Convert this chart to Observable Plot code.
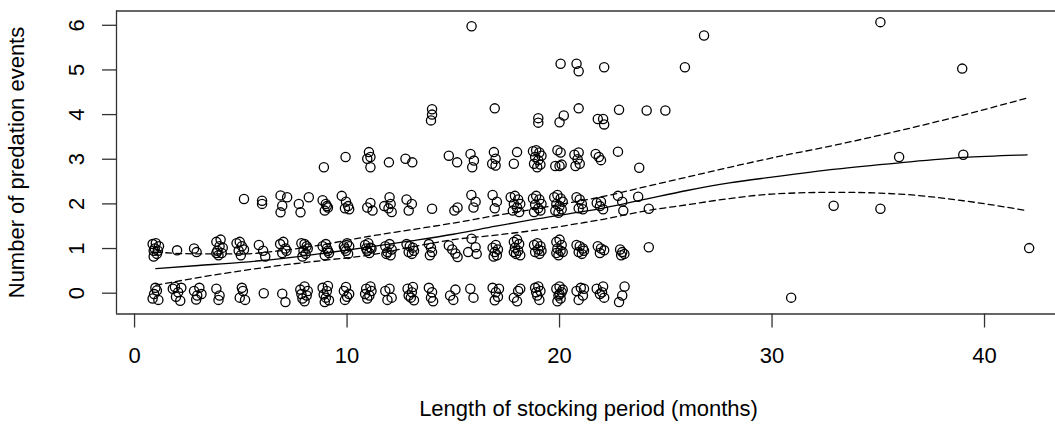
<!DOCTYPE html>
<html>
<head>
<meta charset="utf-8">
<script src="https://cdn.jsdelivr.net/npm/d3@7"></script>
<script src="https://cdn.jsdelivr.net/npm/@observablehq/plot@0.6"></script>
<style>
  html, body { margin: 0; padding: 0; background: #fff; }
  #chart { width: 1055px; height: 425px; overflow: hidden; }
</style>
</head>
<body>
<div id="chart"></div>
<script>
const xTicks = [0, 10, 20, 30, 40];
const yTicks = [0, 1, 2, 3, 4, 5, 6];
const xTitle = "Length of stocking period (months)";
const yTitle = "Number of predation events";

// jittered observations [months, events]
const zeroEvents = [
  [0.85,-0.12],[1.05,0.06],[0.92,-0.02],[1.12,-0.15],[0.98,0.12],
  [1.8,0.1],[2.05,0.02],[1.95,-0.08],[2.2,0.12],[1.9,0.14],[2.15,-0.17],
  [2.8,0.05],[3.05,0.12],[2.95,-0.05],[3.15,-0.02],[2.9,-0.14],
  [3.85,0.1],[4.0,-0.05],[3.95,-0.15],
  [4.95,-0.1],[5.1,0.05],[5.2,-0.15],[5.05,0.12],
  [6.08,0.0],
  [6.95,-0.01],[7.1,-0.2],
  [7.8,0.08],[8.0,0.15],[8.1,-0.05],[7.9,-0.12],[8.15,0.05],[8.0,-0.18],[7.85,-0.02],
  [8.85,0.12],[9.05,0.05],[9.0,-0.1],[9.15,-0.16],[8.9,-0.03],[9.1,0.16],[8.95,-0.2],
  [9.85,0.05],[10.0,-0.08],[9.95,0.14],[10.1,-0.02],[9.9,-0.15],
  [10.9,0.1],[11.05,-0.05],[11.15,0.05],[10.95,-0.12],[11.1,0.15],[10.85,-0.02],
  [11.8,0.05],[12.1,-0.1],[12.0,0.1],[11.9,-0.15],
  [12.85,0.1],[13.05,0.02],[13.0,-0.1],[13.15,-0.16],[12.9,-0.05],[13.1,0.14],
  [13.85,0.12],[14.0,0.02],[13.95,-0.1],[14.05,-0.18],
  [14.85,-0.05],[15.1,0.08],[15.0,-0.15],
  [15.8,0.1],[15.95,-0.1],
  [16.85,0.12],[17.0,0.02],[17.1,-0.08],[16.95,-0.16],[17.15,0.1],
  [17.85,-0.1],[18.05,0.05],[18.0,-0.18],[18.15,0.1],
  [18.85,0.12],[19.0,0.15],[19.1,0.05],[18.95,-0.05],[19.05,-0.15],[18.9,0.02],
  [19.85,0.1],[20.0,0.15],[20.1,0.02],[19.95,-0.05],[20.05,-0.12],[19.9,-0.18],[20.15,0.08],[20.0,-0.02],
  [20.8,0.05],[21.0,0.12],[21.1,-0.05],[20.9,-0.15],[21.15,0.1],
  [21.75,0.1],[21.9,-0.02],[22.05,0.15],[22.1,-0.1],[22.0,0.02],
  [23.06,0.15],[22.95,-0.05],[22.8,-0.2],
  [30.9,-0.1]
];
const oneEvent = [
  [0.85,1.1],[1.0,1.12],[1.15,1.05],[0.9,0.95],[1.05,0.88],[0.95,1.0],[1.1,0.95],[0.9,0.82],
  [2.0,0.96],
  [2.8,1.0],[2.92,0.92],
  [3.85,1.15],[4.05,1.2],[4.0,1.05],[3.9,0.95],[4.1,0.9],[3.95,0.85],[4.15,1.02],[3.85,0.9],
  [4.8,1.12],[4.95,1.15],[5.05,1.05],[5.15,0.98],[4.9,0.95],[5.0,0.85],
  [5.85,1.08],[6.05,0.95],[6.15,0.82],
  [6.85,1.1],[7.0,1.15],[7.1,1.0],[6.95,0.9],[7.15,0.95],
  [7.85,1.12],[8.0,1.1],[8.1,1.05],[7.95,0.95],[8.05,0.88],[7.9,0.82],[8.15,1.0],
  [8.85,1.05],[9.0,1.1],[9.1,0.95],[8.95,0.85],[9.05,1.0],[9.15,0.9],
  [9.85,1.05],[10.0,1.12],[10.1,1.05],[9.95,0.95],[10.05,0.88],[9.9,1.0],
  [10.85,1.08],[11.0,1.12],[11.1,1.02],[10.95,0.95],[11.05,0.9],[11.15,1.0],[10.9,1.0],
  [11.8,1.05],[12.0,1.1],[12.1,0.98],[11.9,0.92],[12.05,0.85],[11.85,0.88],
  [12.8,1.1],[12.95,1.05],[13.1,1.02],[12.9,0.92],[13.05,0.88],[13.15,0.95],
  [13.85,1.1],[13.95,1.02],[14.0,0.92],[13.9,0.85],
  [14.79,1.07],[14.95,0.98],[15.1,0.89],[15.2,0.81],
  [15.86,1.22],[16.05,1.03],[16.1,0.88],[15.7,0.92],
  [16.85,1.02],[17.0,1.08],[17.1,0.98],[16.95,0.92],[17.05,0.85],[16.9,0.82],
  [17.85,1.15],[18.0,1.2],[18.1,1.1],[17.9,1.02],[18.05,0.95],[17.95,0.88],[18.15,0.85],[17.85,0.92],
  [18.8,1.08],[18.95,1.12],[19.1,1.05],[19.0,0.98],[18.85,0.92],[19.05,0.88],[19.15,0.95],
  [19.85,1.15],[20.0,1.2],[20.1,1.08],[19.9,1.0],[20.05,0.95],[19.95,0.85],[20.15,0.92],[19.85,0.9],
  [20.8,1.08],[20.95,1.05],[21.1,1.0],[20.9,0.92],[21.05,0.88],[21.15,0.95],
  [21.8,1.05],[21.95,1.0],[22.1,0.96],[21.9,0.9],
  [22.85,0.98],[22.95,0.92],[22.9,0.85],[23.05,0.88],
  [24.2,1.03],
  [42.1,1.01]
];
const twoEvents = [
  [5.15,2.11],
  [6.0,2.07],[6.0,2.0],
  [6.87,2.19],[7.18,2.15],[6.95,1.96],[6.87,1.81],
  [7.73,2.0],[7.81,1.81],[8.2,2.15],
  [8.85,2.08],[9.0,2.0],[9.1,1.92],[8.95,1.85],[9.05,1.95],
  [9.75,2.18],[9.95,2.05],[10.05,1.95],[10.1,1.88],[9.9,1.9],
  [10.95,1.92],[11.1,2.02],[11.2,1.85],
  [11.75,1.95],[12.0,2.15],[12.05,2.0],[11.95,1.9],[12.1,1.82],
  [12.8,2.1],[13.05,2.0],[12.9,1.85],
  [14.0,1.89],
  [15.05,1.85],[15.2,1.92],
  [15.85,2.2],[16.05,2.05],[15.95,1.92],
  [16.85,2.2],[17.05,2.05],[16.95,1.9],
  [17.7,2.15],[17.9,2.18],[18.05,2.1],[18.15,2.0],[17.85,2.0],[18.0,1.92],[17.8,1.85],[18.1,1.82],
  [18.75,2.12],[18.9,2.18],[19.05,2.1],[19.15,2.0],[18.85,1.98],[19.0,1.9],[18.8,1.82],[19.1,1.85],
  [19.75,2.15],[19.9,2.2],[20.05,2.12],[20.15,2.05],[19.85,2.0],[20.0,1.95],[19.8,1.85],[20.1,1.88],[19.95,1.8],
  [20.8,2.15],[20.95,2.1],[21.05,2.0],[20.9,1.9],[21.1,1.88],
  [21.75,2.02],[21.9,1.95],[22.05,1.88],[21.95,2.05],
  [22.75,2.18],[22.95,2.05],[23.0,1.85],
  [23.7,2.16],[24.2,1.89],
  [32.9,1.96],[35.1,1.89]
];
const threeEvents = [
  [8.91,2.82],[9.93,3.05],
  [11.03,3.16],[11.1,3.05],[11.1,2.82],[10.95,3.01],
  [11.97,2.93],
  [12.75,3.01],[13.07,2.93],
  [14.79,3.08],[15.18,2.93],
  [15.81,3.12],[15.97,2.97],[15.89,2.82],
  [16.91,3.16],[16.99,3.01],[16.99,2.86],[16.83,2.9],
  [18.0,3.16],[17.85,2.9],
  [18.75,3.18],[18.9,3.2],[19.05,3.15],[19.15,3.08],[18.85,3.05],[19.0,2.98],[18.8,2.9],[19.1,2.88],[18.95,2.82],
  [19.9,3.2],[20.05,3.15],[19.8,2.85],[20.0,2.85],[20.1,2.88],
  [20.7,3.1],[20.9,3.15],[20.85,3.0],[20.95,2.9],[20.75,2.85],
  [21.7,3.12],[21.85,3.05],[21.95,2.98],
  [22.75,3.17],[23.75,2.81],
  [35.98,3.05],[39.0,3.1]
];
const fourPlusEvents = [
  [14.0,4.12],[14.0,4.0],[13.95,3.87],[16.95,4.14],[19.0,3.92],[19.0,3.82],[20.0,3.83],[20.2,3.98],
  [20.9,4.14],[21.8,3.9],[22.05,3.9],[22.1,3.78],[22.8,4.11],[24.1,4.09],[24.98,4.09],
  [20.05,5.14],[20.8,5.14],[20.9,4.97],[22.1,5.06],[25.9,5.06],[38.95,5.03],
  [15.86,5.98],[26.8,5.77],[35.1,6.07]
];

// fitted smooth with confidence band
const fitMonths = [1, 3, 5, 7, 9, 11, 13, 15, 17, 19, 21, 22, 24, 26, 28, 30, 33, 36, 39, 42];
const fitMean   = [0.55, 0.62, 0.69, 0.78, 0.9, 1.03, 1.17, 1.32, 1.5, 1.67, 1.82, 1.9, 2.1, 2.3, 2.47, 2.6, 2.78, 2.92, 3.04, 3.1];
const fitUpper  = [0.92, 0.88, 0.88, 0.96, 1.1, 1.27, 1.42, 1.57, 1.74, 1.9, 2.07, 2.16, 2.38, 2.6, 2.82, 3.03, 3.32, 3.64, 3.99, 4.37];
const fitLower  = [0.18, 0.35, 0.5, 0.63, 0.74, 0.85, 1.03, 1.2, 1.3, 1.42, 1.57, 1.65, 1.84, 1.98, 2.12, 2.22, 2.26, 2.22, 2.07, 1.85];

const xDomain = [-0.85, 43.34];
const yDomain = [-0.466, 6.32];

const points = [...zeroEvents, ...oneEvent, ...twoEvents, ...threeEvents, ...fourPlusEvents]
  .map(([x, y]) => ({x, y}));
const fit = fitMonths.map((m, i) => ({m, mean: fitMean[i], upper: fitUpper[i], lower: fitLower[i]}));

const ink = "#000";
const frameInk = "#333";

const chart = Plot.plot({
  width: 1055,
  height: 425,
  marginTop: 10.5,
  marginBottom: 111.5,
  marginLeft: 116,
  marginRight: 0,
  style: {fontFamily: "'Liberation Sans', Arial, sans-serif", fontSize: "22px", background: "#fff", color: ink, overflow: "visible"},
  x: {domain: xDomain, axis: null},
  y: {domain: yDomain, axis: null},
  marks: [
    Plot.ruleY(yDomain, {stroke: frameInk, strokeWidth: 1.3}),
    Plot.ruleX([xDomain[0]], {stroke: frameInk, strokeWidth: 1.3}),
    Plot.axisX(xTicks, {anchor: "bottom", tickSize: 14, fill: "none", stroke: frameInk, strokeWidth: 1.3, label: null}),
    Plot.axisY(yTicks, {anchor: "left", tickSize: 14, fill: "none", stroke: frameInk, strokeWidth: 1.3, label: null}),
    Plot.text(xTicks, {x: d => d, text: d => `${d}`, frameAnchor: "bottom", dy: 41.5, lineAnchor: "middle", fontSize: 22, fill: ink}),
    Plot.text(yTicks, {y: d => d, text: d => `${d}`, frameAnchor: "left", dx: -40, rotate: -90, lineAnchor: "middle", textAnchor: "middle", fontSize: 22, fill: ink}),
    Plot.text([xTitle], {text: d => d, frameAnchor: "bottom", dx: 2.5, dy: 95, lineAnchor: "middle", fontSize: 22, fill: ink}),
    Plot.text([yTitle], {text: d => d, frameAnchor: "left", dx: -99.5, rotate: -90, lineAnchor: "middle", textAnchor: "middle", fontSize: 22, fill: ink}),
    Plot.line(fit, {x: "m", y: "upper", stroke: ink, strokeWidth: 1.3, strokeDasharray: "6,4", curve: "monotone-x"}),
    Plot.line(fit, {x: "m", y: "lower", stroke: ink, strokeWidth: 1.3, strokeDasharray: "6,4", curve: "monotone-x"}),
    Plot.line(fit, {x: "m", y: "mean", stroke: ink, strokeWidth: 1.3, curve: "monotone-x"}),
    Plot.dot(points, {x: "x", y: "y", r: 4.6, stroke: ink, fill: "none", strokeWidth: 1.3})
  ]
});
document.getElementById("chart").append(chart);
</script>
</body>
</html>
